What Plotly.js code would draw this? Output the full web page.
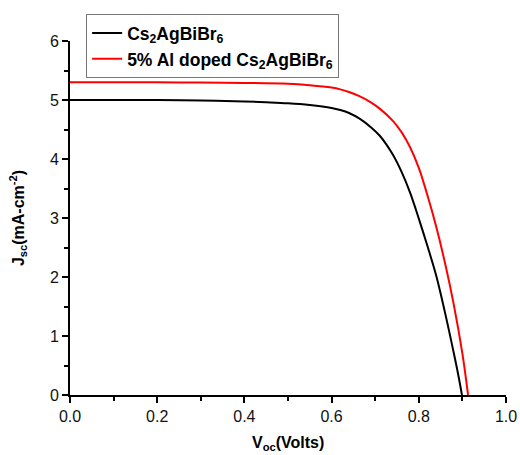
<!DOCTYPE html>
<html>
<head>
<meta charset="utf-8">
<script src="https://cdn.plot.ly/plotly-3.0.1.min.js"></script>
<style>html,body{margin:0;padding:0;background:#fff;}#chart{width:520px;height:455px;}</style>
</head>
<body>
<div id="chart"></div>
<script>
// Pristine Cs2AgBiBr6
const vPure = [0, 0.1, 0.2, 0.3, 0.4, 0.45, 0.5, 0.55, 0.6, 0.62, 0.64, 0.665, 0.69, 0.711, 0.74, 0.76, 0.78, 0.80, 0.82, 0.84, 0.86, 0.88, 0.89, 0.899];
const jPure = [5.00, 5.00, 5.00, 4.99, 4.975, 4.962, 4.945, 4.915, 4.865, 4.83, 4.78, 4.68, 4.54, 4.39, 4.08, 3.79, 3.43, 2.99, 2.52, 2.02, 1.40, 0.72, 0.36, 0.0];
// 5% Al doped Cs2AgBiBr6
const vDoped = [0, 0.1, 0.2, 0.3, 0.4, 0.5, 0.55, 0.6, 0.62, 0.64, 0.665, 0.69, 0.711, 0.74, 0.76, 0.78, 0.80, 0.82, 0.84, 0.86, 0.88, 0.90, 0.913];
const jDoped = [5.30, 5.30, 5.30, 5.295, 5.29, 5.275, 5.25, 5.21, 5.18, 5.135, 5.06, 4.96, 4.85, 4.65, 4.46, 4.20, 3.85, 3.38, 2.85, 2.24, 1.54, 0.70, 0.0];
const seriesNames = ['Cs<sub>2</sub>AgBiBr<sub>6</sub>', '5% Al doped Cs<sub>2</sub>AgBiBr<sub>6</sub>'];
const xTitle = 'V<sub>oc</sub>(Volts)';
const yTitle = 'J<sub>sc</sub>(mA-cm<sup>-2</sup>)';

const FONT = 'Liberation Sans, Arial, sans-serif';
const traces = [
  {x: vPure, y: jPure, name: seriesNames[0], mode: 'lines', line: {color: '#000000', width: 2, shape: 'spline', smoothing: 1}},
  {x: vDoped, y: jDoped, name: seriesNames[1], mode: 'lines', line: {color: '#ff0000', width: 2, shape: 'spline', smoothing: 1}}
];
const axisCommon = {
  showgrid: false, zeroline: false, showline: true, linecolor: '#000', linewidth: 2,
  ticks: 'outside', ticklen: 6, tickwidth: 2, tickcolor: '#000', mirror: false,
  tickfont: {family: FONT, size: 16, color: '#111'}
};
const layout = {
  width: 520, height: 455,
  margin: {l: 70, r: 14, t: 41, b: 60},
  paper_bgcolor: '#fff', plot_bgcolor: '#fff',
  showlegend: true,
  legend: {
    x: 0.037, y: 1.076, xanchor: 'left', yanchor: 'top',
    bgcolor: '#fff', bordercolor: '#777', borderwidth: 1,
    font: {family: FONT, size: 17.5, color: '#000', weight: 700},
    tracegroupgap: 0
  },
  xaxis: Object.assign({}, axisCommon, {
    range: [0, 1.0], dtick: 0.2, tick0: 0, tickformat: '.1f',
    minor: {dtick: 0.1, ticks: 'outside', ticklen: 4, tickwidth: 2, tickcolor: '#000'}
  }),
  yaxis: Object.assign({}, axisCommon, {
    range: [0, 6], dtick: 1, tick0: 0,
    minor: {dtick: 0.5, ticks: 'outside', ticklen: 4, tickwidth: 2, tickcolor: '#000'}
  }),
  annotations: [
    {text: xTitle, xref: 'paper', yref: 'paper', x: 0.5, y: -0.105, xanchor: 'center', yanchor: 'top', showarrow: false,
     font: {family: FONT, size: 16, color: '#000', weight: 700}},
    {text: yTitle, xref: 'paper', yref: 'paper', x: -0.119, y: 0.5, xanchor: 'center', yanchor: 'middle', textangle: -90, showarrow: false,
     font: {family: FONT, size: 16, color: '#000', weight: 700}}
  ]
};
Plotly.newPlot('chart', traces, layout, {displayModeBar: false, staticPlot: true});
</script>
</body>
</html>
